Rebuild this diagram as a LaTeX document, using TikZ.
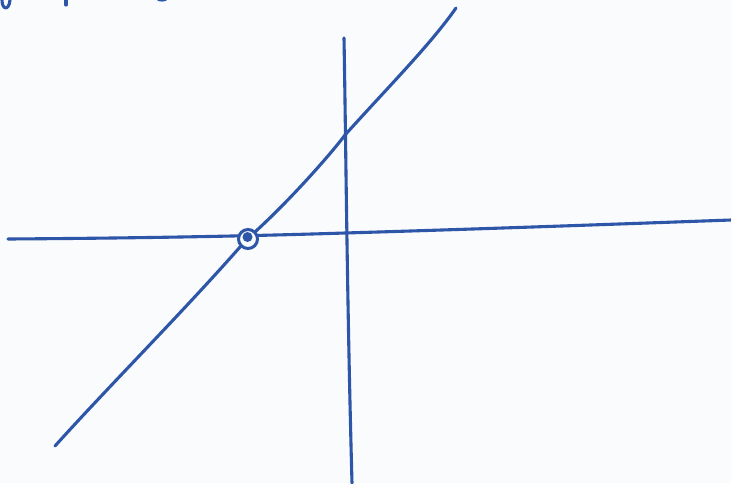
\documentclass[tikz,border=0pt]{standalone}
\definecolor{pen}{RGB}{45,85,168}
\definecolor{paper}{RGB}{250,251,252}
\begin{document}
\begin{tikzpicture}[x=1pt,y=-1pt,
  ink/.style={draw=pen,line width=3.1pt,line cap=round,line join=round}]
\fill[paper] (0,0) rectangle (731,483);
\useasboundingbox (0,0) rectangle (731,483);
% partial handwriting fragments at top edge
\draw[ink] (2,0) .. controls (2,10) and (9,11) .. (10,0);
\draw[ink] (66,0) -- (66,5);
\draw[ink,line width=1.6pt] (158,0) .. controls (160,1) and (164,1) .. (166,0);
% horizontal axis
\coordinate (hl) at (8,239);
\coordinate (hr) at (731,220);
\draw[ink] (hl) .. controls (150,238) and (250,236) .. (345,233) .. controls (480,229) and (620,224) .. (hr);
% vertical axis
\coordinate (vt) at (344,38);
\coordinate (vb) at (352,483);
\draw[ink] (vt) .. controls (346,150) and (347,300) .. (vb);
% hole
\node[circle,draw=pen,fill=paper,line width=3pt,minimum size=19pt,inner sep=0pt] (hole) at (248,239) {};
\fill[pen] (247.5,237) circle (5);
% diagonal line
\coordinate (dl) at (55,446);
\coordinate (dt) at (456,8);
\draw[ink] (dl) .. controls (110,385) and (180,315) .. (hole.south west);
\draw[ink] (hole.north east) .. controls (290,200) and (330,155) .. (345,135) .. controls (390,85) and (430,45) .. (dt);
\end{tikzpicture}
\end{document}
